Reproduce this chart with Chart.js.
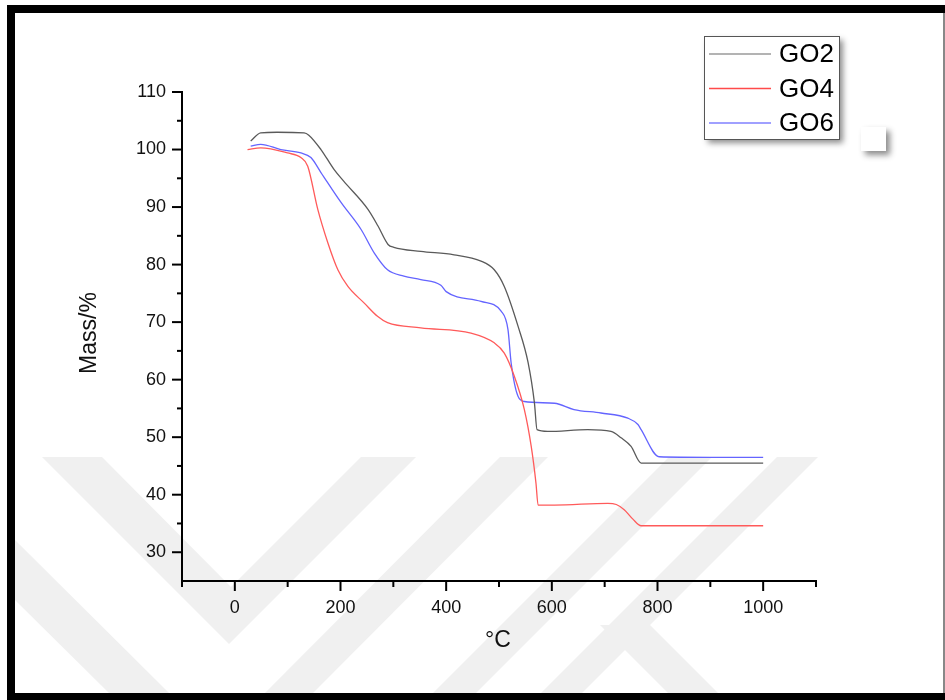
<!DOCTYPE html>
<html>
<head>
<meta charset="utf-8">
<script src="https://cdn.jsdelivr.net/npm/chart.js@4/dist/chart.umd.min.js"></script>
<style>
  html, body { margin: 0; padding: 0; background: #fff; }
  #wrap { width: 945px; height: 700px; }
</style>
</head>
<body>
<div id="wrap"><canvas id="tga_chart" width="945" height="700"></canvas></div>
<script>
// TGA curves (temperature in °C, mass in %)
const go2_temp = [30, 49, 80, 131, 140, 163, 188, 206, 252, 271, 290, 301, 352, 415, 466, 491, 510, 536, 555, 567, 572, 592, 668, 712, 731, 750, 769, 860, 1000];
const go2_mass = [101.5, 102.9, 103, 102.9, 102.5, 100, 96.5, 94.5, 89.6, 86.7, 83.5, 83, 82.3, 81.7, 80.6, 79.1, 76.2, 69.3, 63, 56, 51.3, 51, 51.3, 51, 49.9, 48.4, 45.5, 45.5, 45.5];

const go4_temp = [24, 49, 100, 125, 138, 157, 176, 195, 214, 245, 270, 289, 352, 447, 491, 510, 529, 548, 561, 570, 574, 605, 706, 722, 737, 753, 769, 1000];
const go4_mass = [100, 100.3, 99.4, 98.6, 97.1, 89.6, 83.8, 79.1, 76.2, 73.3, 71, 69.9, 69, 68.1, 66.4, 64.6, 60.6, 54.8, 48.4, 42, 38.2, 38.2, 38.5, 38.3, 37.4, 35.8, 34.6, 34.6];

const go6_temp = [30, 49, 87, 125, 144, 163, 201, 239, 264, 289, 320, 352, 390, 400, 466, 504, 517, 523, 536, 548, 605, 642, 693, 744, 763, 769, 803, 900, 1000];
const go6_mass = [100.6, 100.9, 100, 99.4, 98.6, 96, 90.8, 86.1, 82, 79.1, 78, 77.4, 76.4, 75.3, 73.6, 71.9, 68.7, 62.9, 57.1, 56.2, 55.9, 54.8, 54.2, 53.3, 52.2, 51.3, 46.6, 46.5, 46.5];

const series_names = ['GO2', 'GO4', 'GO6'];
const series_colors = ['#5a5a5a', '#ff5a5a', '#6464ff'];
const legend_colors = ['#9a9a9a', '#ff4a4a', '#8080ff'];

const x_min = -100, x_max = 1100;
const y_min = 25, y_max = 110;
const x_title = '°C';
const y_title = 'Mass/%';

const FONT = "'Liberation Sans', Arial, sans-serif";

function toPoints(xs, ys) {
    return xs.map((x, i) => ({x: x, y: ys[i]}));
}

// background, watermark and frame
const backdrop = {
    id: 'backdrop',
    beforeDraw(chart) {
        const ctx = chart.ctx;
        ctx.save();
        ctx.fillStyle = '#fff';
        ctx.fillRect(0, 0, 945, 700);

        // faint watermark stripes
        ctx.fillStyle = '#f0f0f0';
        const polys = [
            [[42, 457], [102, 457], [231, 587], [361, 457], [416, 457], [229, 644]],
            [[15, 540], [15, 600], [110, 694], [170, 694]],
            [[500, 457], [548, 457], [312, 694], [264, 694]],
            [[669, 457], [712, 457], [475, 694], [432, 694]],
            [[777, 457], [818, 457], [581, 694], [540, 694]],
            [[600, 625], [650, 625], [719, 694], [669, 694]]
        ];
        polys.forEach(p => {
            ctx.beginPath();
            ctx.moveTo(p[0][0], p[0][1]);
            p.slice(1).forEach(q => ctx.lineTo(q[0], q[1]));
            ctx.closePath();
            ctx.fill();
        });

        // black frame
        ctx.fillStyle = '#000';
        ctx.fillRect(7, 5, 938, 8);
        ctx.fillRect(7, 5, 8, 695);
        ctx.fillRect(7, 693, 938, 7);
        ctx.fillStyle = '#888';
        ctx.fillRect(943, 13, 2, 680);
        ctx.restore();
    }
};

// ticks, axis titles, legend box
const decorations = {
    id: 'decorations',
    afterDraw(chart) {
        const ctx = chart.ctx;
        const xs = chart.scales.x, ys = chart.scales.y;
        const area = chart.chartArea;
        ctx.save();
        ctx.strokeStyle = '#000';
        ctx.lineWidth = 2;
        xs.ticks.forEach(t => {
            const px = xs.getPixelForValue(t.value);
            const len = (t.value % 200 === 0) ? 10 : 6;
            ctx.beginPath();
            ctx.moveTo(px, area.bottom);
            ctx.lineTo(px, area.bottom + len);
            ctx.stroke();
        });
        ys.ticks.forEach(t => {
            if (t.value === y_min) return;
            const py = ys.getPixelForValue(t.value);
            const len = (t.value % 10 === 0) ? 10 : 5;
            ctx.beginPath();
            ctx.moveTo(area.left, py);
            ctx.lineTo(area.left - len, py);
            ctx.stroke();
        });

        // axis titles
        ctx.fillStyle = '#111';
        ctx.font = '23px ' + FONT;
        ctx.textAlign = 'center';
        ctx.textBaseline = 'middle';
        ctx.fillText(x_title, 498, 641);
        ctx.save();
        ctx.translate(90, 333);
        ctx.rotate(-Math.PI / 2);
        ctx.fillText(y_title, 0, 0);
        ctx.restore();

        // legend box with shadow
        ctx.save();
        ctx.shadowColor = 'rgba(0,0,0,0.45)';
        ctx.shadowBlur = 6;
        ctx.shadowOffsetX = 4;
        ctx.shadowOffsetY = 4;
        ctx.fillStyle = '#fff';
        ctx.fillRect(704, 36, 135, 103);
        ctx.fillRect(861, 127, 25, 24);
        ctx.restore();
        ctx.strokeStyle = '#555';
        ctx.lineWidth = 1;
        ctx.strokeRect(704.5, 36.5, 135, 103);

        ctx.font = '26px ' + FONT;
        ctx.textAlign = 'left';
        series_names.forEach((name, i) => {
            const y = 54 + i * 34.5;
            ctx.strokeStyle = legend_colors[i];
            ctx.lineWidth = 1.3;
            ctx.beginPath();
            ctx.moveTo(709, y);
            ctx.lineTo(771, y);
            ctx.stroke();
            ctx.fillStyle = '#000';
            ctx.fillText(name, 779, y + 1);
        });
        ctx.restore();
    }
};

const tga_data = {
    datasets: [
        {label: series_names[0], data: toPoints(go2_temp, go2_mass), borderColor: series_colors[0]},
        {label: series_names[1], data: toPoints(go4_temp, go4_mass), borderColor: series_colors[1]},
        {label: series_names[2], data: toPoints(go6_temp, go6_mass), borderColor: series_colors[2]}
    ].map(d => Object.assign(d, {
        borderWidth: 1.3,
        pointRadius: 0,
        fill: false,
        cubicInterpolationMode: 'monotone'
    }))
};

const tga_config = {
    type: 'line',
    data: tga_data,
    options: {
        responsive: false,
        animation: false,
        layout: {padding: {top: 92, right: 129, left: 0, bottom: 0}},
        plugins: {
            legend: {display: false},
            tooltip: {enabled: false}
        },
        scales: {
            x: {
                type: 'linear',
                min: x_min,
                max: x_max,
                afterFit: (s) => { s.height = 119; },
                ticks: {
                    stepSize: 100,
                    autoSkip: false,
                    maxRotation: 0,
                    padding: 6,
                    color: '#111',
                    font: {family: FONT, size: 18},
                    callback: (v) => (v % 200 === 0 && v >= 0 && v <= 1000) ? String(v) : ''
                },
                grid: {display: true, drawOnChartArea: false, drawTicks: true, tickLength: 10, color: 'rgba(0,0,0,0)'},
                border: {display: true, color: '#000', width: 2}
            },
            y: {
                type: 'linear',
                min: y_min,
                max: y_max,
                afterFit: (s) => { s.width = 182; },
                ticks: {
                    stepSize: 5,
                    autoSkip: false,
                    padding: 6,
                    color: '#111',
                    font: {family: FONT, size: 18},
                    callback: (v) => (v % 10 === 0) ? String(v) : ''
                },
                grid: {display: true, drawOnChartArea: false, drawTicks: true, tickLength: 10, color: 'rgba(0,0,0,0)'},
                border: {display: true, color: '#000', width: 2}
            }
        }
    },
    plugins: [backdrop, decorations]
};

const tgaChart = new Chart(
    document.getElementById('tga_chart'),
    tga_config
);
</script>
</body>
</html>
